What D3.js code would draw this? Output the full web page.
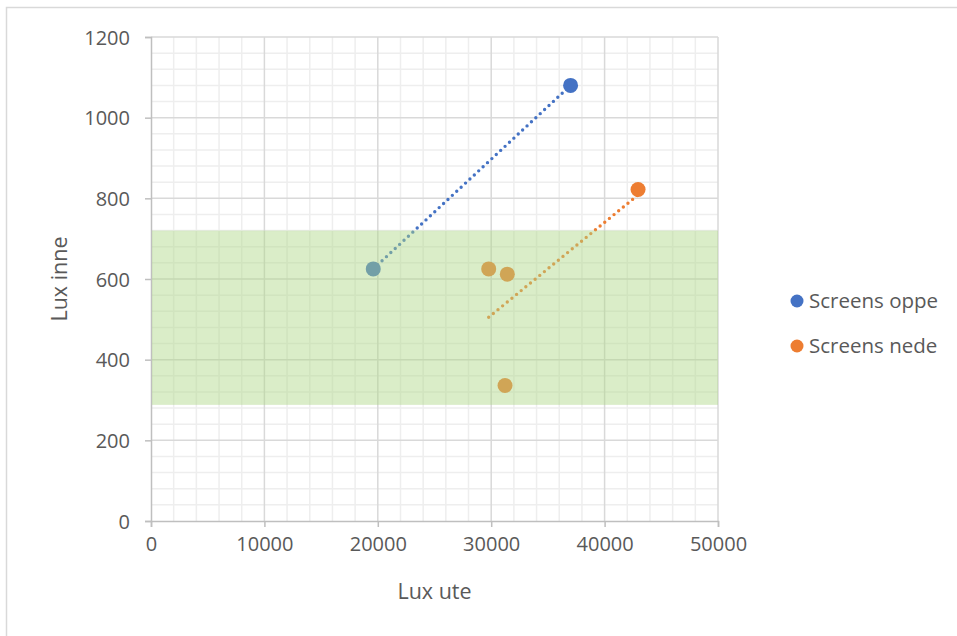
<!DOCTYPE html>
<html>
<head>
<meta charset="utf-8">
<script src="https://cdn.jsdelivr.net/npm/d3@7"></script>
<style>
  html, body { margin: 0; padding: 0; background: #fff; }
  svg { display: block; }
  text { font-family: "Open Sans", "Noto Sans", sans-serif; fill: #595959; }
</style>
</head>
<body>
<svg id="chart" width="957" height="636"></svg>
<script>
// Series data
const seriesNames = ["Screens oppe", "Screens nede"];
const seriesColors = ["#4472C4", "#ED7D31"];
const oppeX = [19600, 37000];
const oppeY = [625, 1080];
const nedeX = [29780, 31420, 31220, 42950];
const nedeY = [625, 612, 336, 822];

// Target band (Lux inne)
const bandLow = 288;
const bandHigh = 720;

// Axis ticks
const xTicks = [0, 10000, 20000, 30000, 40000, 50000];
const yTicks = [0, 200, 400, 600, 800, 1000, 1200];
const xMinorStep = 2000;
const yMinorStep = 40;

const svg = d3.select("#chart");

// Outer chart frame
svg.append("rect")
  .attr("x", 6.5).attr("y", 7.5)
  .attr("width", 1000).attr("height", 1000)
  .attr("fill", "#fff").attr("stroke", "#d9d9d9").attr("stroke-width", 1.5);

const x = d3.scaleLinear().domain([0, 50000]).range([151, 718]);
const y = d3.scaleLinear().domain([0, 1200]).range([521, 37]);

// Minor gridlines
const xMinor = d3.range(0, 50001, xMinorStep).filter(v => v % 10000 !== 0);
const yMinor = d3.range(0, 1201, yMinorStep).filter(v => v % 200 !== 0);
const grid = svg.append("g");
grid.selectAll(".xm").data(xMinor).join("line")
  .attr("x1", d => x(d)).attr("x2", d => x(d))
  .attr("y1", y(0)).attr("y2", y(1200))
  .attr("stroke", "#eeeeee").attr("stroke-width", 1.5);
grid.selectAll(".ym").data(yMinor).join("line")
  .attr("x1", x(0)).attr("x2", x(50000))
  .attr("y1", d => y(d)).attr("y2", d => y(d))
  .attr("stroke", "#eeeeee").attr("stroke-width", 1.5);

// Major gridlines
grid.selectAll(".xM").data(xTicks.slice(1)).join("line")
  .attr("x1", d => x(d)).attr("x2", d => x(d))
  .attr("y1", y(0)).attr("y2", y(1200))
  .attr("stroke", "#d9d9d9").attr("stroke-width", 1.5);
grid.selectAll(".yM").data(yTicks.slice(1)).join("line")
  .attr("x1", x(0)).attr("x2", x(50000))
  .attr("y1", d => y(d)).attr("y2", d => y(d))
  .attr("stroke", "#d9d9d9").attr("stroke-width", 1.5);

// Axes
const xAxis = d3.axisBottom(x).tickValues(xTicks).tickSize(6).tickPadding(10).tickFormat(d3.format("d"));
const yAxis = d3.axisLeft(y).tickValues(yTicks).tickSize(6).tickPadding(15).tickFormat(d3.format("d"));

const gx = svg.append("g").attr("transform", `translate(0,${y(0)})`).call(xAxis);
const gy = svg.append("g").attr("transform", `translate(${x(0)},0)`).call(yAxis);
[gx, gy].forEach(g => {
  g.select(".domain").attr("stroke", "#bfbfbf").attr("stroke-width", 1.5);
  g.selectAll(".tick line").attr("stroke", "#bfbfbf").attr("stroke-width", 1.5);
  g.selectAll(".tick text").attr("fill", "#595959")
    .style("font-size", "20px").style("font-family", "'Open Sans', sans-serif");
});
gy.selectAll(".tick text").attr("dy", "0.36em");

// Axis titles
svg.append("text")
  .attr("x", x(25000)).attr("y", 599)
  .attr("text-anchor", "middle").style("font-size", "21.5px")
  .text("Lux ute");
svg.append("text")
  .attr("transform", `translate(67,${y(600)}) rotate(-90)`)
  .attr("text-anchor", "middle").style("font-size", "21.5px")
  .text("Lux inne");

// Linear trendline spanning the series' x range
function trend(xs, ys) {
  const mx = d3.mean(xs), my = d3.mean(ys);
  let sxy = 0, sxx = 0;
  xs.forEach((v, i) => { sxy += (v - mx) * (ys[i] - my); sxx += (v - mx) * (v - mx); });
  const b = sxy / sxx, a = my - b * mx;
  const [x0, x1] = d3.extent(xs);
  return [[x0, a + b * x0], [x1, a + b * x1]];
}

const series = [
  { xs: oppeX, ys: oppeY, color: seriesColors[0] },
  { xs: nedeX, ys: nedeY, color: seriesColors[1] }
];

const line = d3.line().x(d => x(d[0])).y(d => y(d[1]));
const marks = svg.append("g");
series.forEach(s => {
  marks.append("path")
    .attr("d", line(trend(s.xs, s.ys)))
    .attr("fill", "none").attr("stroke", s.color)
    .attr("stroke-width", 3.4).attr("stroke-linecap", "round")
    .attr("stroke-dasharray", "0 6");
});
series.forEach(s => {
  marks.selectAll(null).data(s.xs.map((v, i) => [v, s.ys[i]])).join("circle")
    .attr("cx", d => x(d[0])).attr("cy", d => y(d[1]))
    .attr("r", 7.5).attr("fill", s.color);
});

// Semi-transparent target band laid over the plot
svg.append("rect")
  .attr("x", x(0) + 1).attr("width", x(50000) - x(0) - 1)
  .attr("y", y(bandHigh)).attr("height", y(bandLow) - y(bandHigh))
  .attr("fill", "rgb(173,215,133)").attr("fill-opacity", 0.45);

// Legend
const legend = svg.append("g");
seriesNames.forEach((name, i) => {
  const ly = 301 + i * 45;
  legend.append("circle").attr("cx", 797).attr("cy", ly).attr("r", 6.5).attr("fill", seriesColors[i]);
  legend.append("text").attr("x", 809).attr("y", ly).attr("dy", "0.36em")
    .style("font-size", "20.5px").text(name);
});
</script>
</body>
</html>
